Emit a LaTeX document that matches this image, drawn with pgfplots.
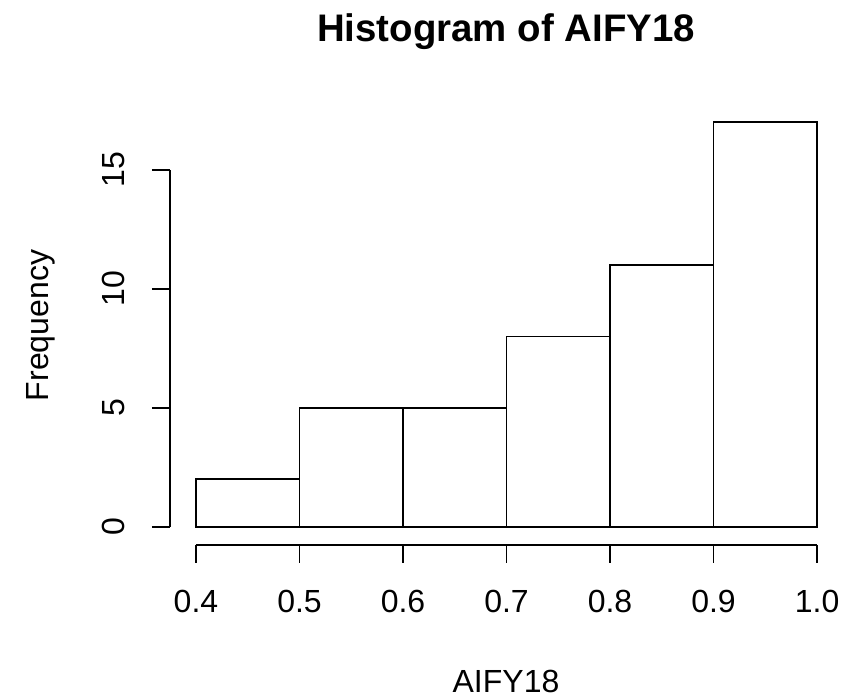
\documentclass[border=0pt]{standalone}
\usepackage{fontspec}
\setmainfont{Liberation Sans}
\usepackage{pgfplots}
\pgfplotsset{compat=1.18}
\begin{document}
\begin{tikzpicture}
\useasboundingbox (0,0) rectangle (421pt,349.5pt);
\begin{axis}[
  at={(85pt,77pt)}, anchor=south west,
  scale only axis, width=336pt, height=219.5pt,
  xmin=0.3749, xmax=1.0241, ymin=-0.76, ymax=17.68,
  axis lines*=left, axis line style={draw=none},
  clip=false,
  tick align=outside, major tick length=9pt,
  tick style={black, line width=0.8pt},
  xtick pos=left, ytick pos=left,
  xtick={0.4,0.5,0.6,0.7,0.8,0.9,1.0},
  xticklabels={0.4,0.5,0.6,0.7,0.8,0.9,1.0},
  ytick={0,5,10,15}, yticklabels={0,5,10,15},
  ticklabel style={font=\fontsize{16}{19}\selectfont, inner sep=0pt},
  xticklabel style={anchor=base, yshift=-25pt},
  yticklabel style={xshift=-13.5pt, rotate=90, anchor=base},
  title={Histogram of AIFY18},
  xlabel={AIFY18},
  ylabel={Frequency},
  every axis title/.style={at={(axis description cs:0.5,1.146)}, anchor=base,
    font=\bfseries\fontsize{19.2}{23}\selectfont},
  every axis x label/.style={at={(axis description cs:0.5,-0.335)}, anchor=base,
    font=\fontsize{16}{19}\selectfont},
  every axis y label/.style={at={(axis description cs:-0.1815,0.5)}, rotate=90, anchor=base,
    font=\fontsize{16}{19}\selectfont},
]
\addplot [ybar interval, fill=white, draw=black, line width=0.8pt]
  coordinates {(0.4,2) (0.5,5) (0.6,5) (0.7,8) (0.8,11) (0.9,17) (1.0,17)};
\draw[line width=0.8pt] (axis cs:0.4,-0.76) -- (axis cs:1.0,-0.76);
\draw[line width=0.8pt] (axis cs:0.3749,0) -- (axis cs:0.3749,15);
\end{axis}
\end{tikzpicture}
\end{document}
